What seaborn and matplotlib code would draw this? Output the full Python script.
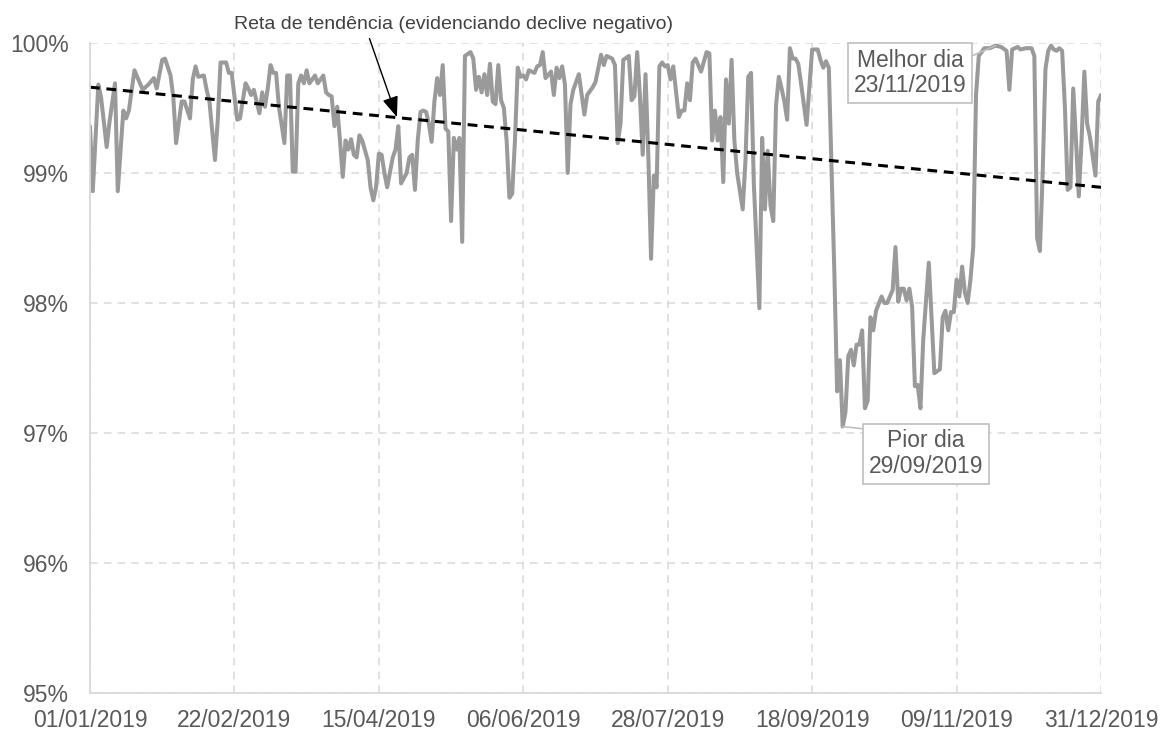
import numpy as np
import pandas as pd
import matplotlib
matplotlib.use("Agg")
import matplotlib.pyplot as plt
import seaborn as sns

# ---- data (day offset from 01/01/2019, availability %) ----
day_offsets = [0, 1, 3, 4, 6, 7, 9, 10, 12, 13, 14, 16, 18, 19, 21, 23, 24, 26, 27, 29,
               30, 31, 33, 34, 36, 37, 38, 39, 41, 42, 43, 45, 46, 47, 49, 50, 51, 53, 54, 56,
               57, 58, 59, 61, 62, 63, 64, 65, 66, 67, 68, 70, 71, 72, 73, 74, 75, 76, 77, 78,
               79, 81, 82, 84, 85, 86, 87, 88, 89, 90, 91, 92, 93, 94, 95, 96, 97, 98, 100, 101,
               102, 103, 104, 105, 106, 107, 109, 110, 111, 112, 114, 115, 116, 117, 118, 119, 120, 121, 122, 123,
               124, 125, 126, 127, 128, 129, 130, 131, 132, 133, 134, 135, 137, 138, 139, 140, 141, 142, 143, 144,
               145, 146, 147, 148, 149, 150, 151, 152, 153, 154, 155, 156, 157, 158, 160, 161, 162, 163, 164, 166,
               167, 168, 169, 170, 171, 172, 173, 174, 176, 178, 179, 181, 182, 184, 185, 186, 188, 189, 190, 191,
               192, 194, 195, 196, 197, 198, 199, 200, 201, 202, 203, 204, 205, 206, 207, 208, 209, 210, 212, 213,
               214, 215, 216, 217, 218, 220, 222, 223, 224, 225, 226, 227, 228, 229, 230, 231, 232, 233, 235, 236,
               237, 238, 239, 241, 242, 243, 244, 245, 246, 247, 248, 249, 250, 251, 252, 253, 254, 255, 256, 258,
               259, 260, 262, 263, 264, 265, 266, 267, 268, 269, 270, 271, 272, 273, 274, 275, 276, 277, 278, 279,
               280, 281, 282, 283, 285, 286, 287, 289, 290, 291, 292, 293, 294, 295, 296, 297, 298, 299, 300, 302,
               303, 304, 306, 307, 308, 309, 310, 311, 312, 313, 314, 315, 316, 317, 318, 319, 320, 322, 324, 326,
               328, 330, 331, 332, 334, 335, 337, 339, 340, 341, 342, 343, 344, 345, 346, 347, 348, 349, 350, 351,
               352, 353, 354, 355, 356, 357, 358, 359, 360, 361, 362, 363, 364]
availability = [99.36, 98.86, 99.68, 99.58, 99.20, 99.39, 99.69, 98.86, 99.48, 99.42, 99.48, 99.79, 99.69, 99.64, 99.68, 99.73, 99.65, 99.87, 99.88, 99.75,
                99.58, 99.23, 99.55, 99.55, 99.42, 99.72, 99.82, 99.74, 99.75, 99.64, 99.55, 99.10, 99.41, 99.85, 99.85, 99.77, 99.77, 99.41, 99.42, 99.69,
                99.65, 99.60, 99.64, 99.46, 99.62, 99.51, 99.65, 99.83, 99.77, 99.77, 99.51, 99.23, 99.75, 99.75, 99.01, 99.01, 99.69, 99.75, 99.69, 99.79,
                99.69, 99.75, 99.69, 99.75, 99.62, 99.60, 99.59, 99.36, 99.51, 99.25, 98.97, 99.25, 99.18, 99.26, 99.14, 99.12, 99.29, 99.25, 99.10, 98.89,
                98.79, 98.89, 99.15, 99.14, 99.00, 98.89, 99.12, 99.18, 99.36, 98.92, 99.00, 99.12, 99.14, 98.87, 99.25, 99.47, 99.48, 99.47, 99.38, 99.24,
                99.55, 99.73, 99.60, 99.83, 99.34, 99.32, 98.63, 99.27, 99.18, 99.27, 98.47, 99.90, 99.93, 99.88, 99.64, 99.74, 99.62, 99.76, 99.60, 99.84,
                99.55, 99.53, 99.83, 99.56, 99.50, 99.25, 98.81, 98.84, 99.25, 99.81, 99.74, 99.75, 99.72, 99.79, 99.77, 99.82, 99.83, 99.93, 99.73, 99.78,
                99.60, 99.81, 99.73, 99.82, 99.68, 99.00, 99.53, 99.64, 99.76, 99.45, 99.60, 99.66, 99.70, 99.91, 99.83, 99.90, 99.88, 99.83, 99.23, 99.38,
                99.87, 99.90, 99.56, 99.59, 99.93, 99.59, 99.14, 99.76, 99.15, 98.34, 98.98, 98.89, 99.82, 99.85, 99.82, 99.83, 99.72, 99.82, 99.43, 99.48,
                99.48, 99.69, 99.56, 99.85, 99.88, 99.78, 99.93, 99.92, 99.25, 99.48, 99.25, 99.43, 98.93, 99.72, 99.38, 99.87, 99.25, 99.00, 98.72, 99.10,
                99.74, 99.77, 98.92, 97.96, 99.27, 98.72, 99.17, 98.75, 98.63, 99.52, 99.74, 99.65, 99.55, 99.41, 99.96, 99.88, 99.88, 99.84, 99.69, 99.37,
                99.66, 99.95, 99.95, 99.87, 99.81, 99.86, 99.81, 99.02, 98.23, 97.32, 97.56, 97.05, 97.16, 97.59, 97.64, 97.52, 97.68, 97.68, 97.79, 97.19,
                97.25, 97.89, 97.79, 97.94, 98.05, 98.00, 98.00, 98.10, 98.43, 98.01, 98.11, 98.11, 98.02, 98.11, 97.97, 97.36, 97.37, 97.19, 97.72, 98.31,
                97.89, 97.46, 97.49, 97.89, 97.94, 97.79, 97.93, 97.93, 98.18, 98.05, 98.28, 98.08, 98.00, 98.18, 98.43, 99.60, 99.90, 99.96, 99.96, 99.98,
                99.97, 99.94, 99.64, 99.95, 99.97, 99.95, 99.96, 99.96, 99.90, 98.50, 98.40, 99.00, 99.80, 99.94, 99.98, 99.95, 99.94, 99.96, 99.94, 99.51,
                98.87, 98.89, 99.65, 99.25, 98.82, 99.25, 99.78, 99.38, 99.28, 99.13, 98.98, 99.55, 99.60]

trend_days = [0, 364]
trend_values = [99.66, 98.89]

tick_labels = ["01/01/2019", "22/02/2019", "15/04/2019", "06/06/2019",
               "28/07/2019", "18/09/2019", "09/11/2019", "31/12/2019"]
ytick_values = [95, 96, 97, 98, 99, 100]

best_label = "Melhor dia\n23/11/2019"
best_day, best_value = 326, 99.98
worst_label = "Pior dia\n29/09/2019"
worst_day, worst_value = 271, 97.05
trend_label = "Reta de tendência (evidenciando declive negativo)"

# ---- build frame ----
start = pd.Timestamp("2019-01-01")
df = pd.DataFrame({"date": start + pd.to_timedelta(day_offsets, unit="D"),
                   "value": availability})
tdf = pd.DataFrame({"date": start + pd.to_timedelta(trend_days, unit="D"),
                    "value": trend_values})

sns.set_theme(style="white")
plt.rcParams["font.family"] = ["Liberation Sans", "DejaVu Sans"]

fig = plt.figure(figsize=(11.65, 7.33), dpi=100)
ax = fig.add_axes([90 / 1165, 40 / 733, (1101 - 90) / 1165, (693 - 43) / 733])

sns.lineplot(data=df, x="date", y="value", ax=ax, color="#9A9A9A", linewidth=2.9,
             solid_joinstyle="round")
sns.lineplot(data=tdf, x="date", y="value", ax=ax, color="black", linewidth=2.2,
             linestyle=(0, (3.2, 2.2)))

ax.set_xlim(start, start + pd.Timedelta(days=364))
ax.set_ylim(95, 100)
xt = [start + pd.Timedelta(days=52 * i) for i in range(len(tick_labels))]
ax.set_xticks(xt)
ax.set_xticklabels(tick_labels)
ax.set_yticks(ytick_values)
ax.set_yticklabels([f"{v}%" for v in ytick_values])
ax.set_xlabel("")
ax.set_ylabel("")

ax.grid(True, color="#D9D9D9", linestyle=(0, (5, 4)), linewidth=1.1)
for s in ["top", "right"]:
    ax.spines[s].set_visible(False)
for s in ["left", "bottom"]:
    ax.spines[s].set_color("#D9D9D9")
    ax.spines[s].set_linewidth(1.3)
ax.tick_params(axis="both", colors="#595959", labelsize=16.5)
ax.tick_params(axis="y", length=0, pad=15)
ax.tick_params(axis="x", length=7, direction="inout", width=1.1, color="#D9D9D9", pad=8)

# annotations
ax.annotate(trend_label, xy=(start + pd.Timedelta(days=110.5), 99.43),
            xytext=(start + pd.Timedelta(days=130.7), 100.145),
            ha="center", va="center", fontsize=14, color="#404040",
            annotation_clip=False,
            arrowprops=dict(arrowstyle="-|>,head_length=0.9,head_width=0.35",
                            color="black", lw=1.0, shrinkA=2, shrinkB=0,
                            relpos=(0.305, 0.0)))

box = dict(boxstyle="square,pad=0.25", fc="white", ec="#BFBFBF", lw=1.2)
ax.annotate(best_label, xy=(start + pd.Timedelta(days=best_day), best_value),
            xytext=(start + pd.Timedelta(days=295.3), 99.77),
            ha="center", va="center", fontsize=16.5, color="#595959", bbox=box,
            linespacing=1.15,
            arrowprops=dict(arrowstyle="-", color="#BFBFBF", lw=1.2,
                            shrinkA=0, shrinkB=0, relpos=(1, 0.8)))
ax.annotate(worst_label, xy=(start + pd.Timedelta(days=worst_day), worst_value),
            xytext=(start + pd.Timedelta(days=301), 96.84),
            ha="center", va="center", fontsize=16.5, color="#595959", bbox=box,
            linespacing=1.15,
            arrowprops=dict(arrowstyle="-", color="#BFBFBF", lw=1.2,
                            shrinkA=0, shrinkB=0, relpos=(0, 1)))

fig.savefig("out.png", dpi=100)
